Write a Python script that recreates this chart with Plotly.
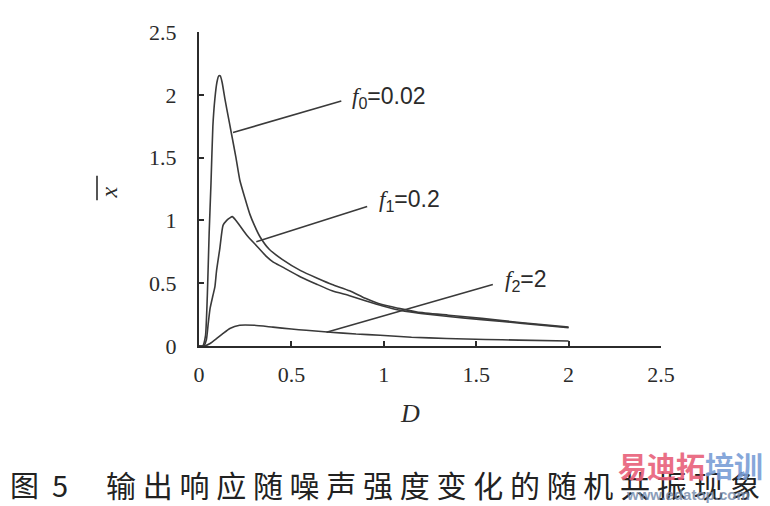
import plotly.graph_objects as go

# ---------------- data ----------------
x_f0 = [0, 0.02, 0.035, 0.045, 0.055, 0.065, 0.075, 0.086, 0.097, 0.107, 0.115, 0.125, 0.14, 0.15, 0.177,
        0.2, 0.221, 0.25, 0.275, 0.3, 0.33, 0.38, 0.45, 0.55, 0.64, 0.72, 0.815, 0.9, 0.99, 1.08, 1.18,
        1.35, 1.53, 1.75, 2.0]
y_f0 = [0, 0, 0.08, 0.4, 0.9, 1.3, 1.75, 1.97, 2.1, 2.15, 2.15, 2.1, 1.97, 1.89, 1.68,
        1.5, 1.32, 1.17, 1.05, 0.96, 0.87, 0.77, 0.69, 0.6, 0.54, 0.49, 0.44, 0.38, 0.33, 0.3, 0.27,
        0.245, 0.22, 0.185, 0.15]

x_f1 = [0, 0.025, 0.04, 0.05, 0.06, 0.075, 0.086, 0.095, 0.113, 0.13, 0.15, 0.167, 0.18, 0.2, 0.22,
        0.26, 0.31, 0.36, 0.4, 0.45, 0.55, 0.64, 0.72, 0.815, 0.9, 0.99, 1.1, 1.2, 1.35, 1.53, 1.75, 2.0]
y_f1 = [0, 0, 0.05, 0.18, 0.3, 0.4, 0.47, 0.6, 0.78, 0.96, 1.0, 1.02, 1.03, 1.0, 0.96,
        0.88, 0.8, 0.72, 0.67, 0.63, 0.55, 0.49, 0.44, 0.40, 0.36, 0.32, 0.28, 0.26, 0.235, 0.21, 0.18, 0.145]

x_f2 = [0, 0.03, 0.06, 0.096, 0.13, 0.167, 0.22, 0.3, 0.4, 0.5, 0.58, 0.71, 0.85, 0.98, 1.15, 1.34,
        1.55, 1.73, 2.0]
y_f2 = [0, 0, 0.02, 0.06, 0.1, 0.14, 0.165, 0.165, 0.15, 0.135, 0.125, 0.11, 0.095, 0.086, 0.07, 0.06,
        0.052, 0.047, 0.04]

# leader lines: (start on curve) -> (end near label)
lead_f0_x = [0.184, 0.77]
lead_f0_y = [1.70, 1.95]
lead_f1_x = [0.31, 0.91]
lead_f1_y = [0.83, 1.11]
lead_f2_x = [0.69, 1.59]
lead_f2_y = [0.11, 0.49]

SERIF_F = "<span style='font-family:Liberation Serif'><i>f</i></span>"
labels = [SERIF_F + "<sub>0</sub>=0.02", SERIF_F + "<sub>1</sub>=0.2", SERIF_F + "<sub>2</sub>=2"]
label_x = [0.815, 0.965, 1.645]
label_y = [1.98, 1.16, 0.52]

x_ticks = [0, 0.5, 1, 1.5, 2, 2.5]
x_tick_text = ["0", "0.5", "1", "1.5", "2", "2.5"]
y_ticks = [0, 0.5, 1, 1.5, 2, 2.5]
y_tick_text = ["0", "0.5", "1", "1.5", "2", "2.5"]

caption_head = "图\u00a0\u00a05"
caption_body = "输出响应随噪声强度变化的随机共振现象"

# ---------------- layout helpers ----------------
# page has an 8px body margin; figure is placed at (8, 8)
OFF = 8
W, H = 770 - OFF, 506 - OFF
L, T = 199 - OFF, 25 - OFF
R = W - (661 - OFF)
B = H - (346 - OFF)
PW, PH = W - L - R, H - T - B


def px(xp):
    return (xp - OFF - L) / PW


def py(yp):
    return (H - B - (yp - OFF)) / PH


INK = "#2b2b2b"
CURVE = "#3a3a3a"

fig = go.Figure()
for xs, ys in [(x_f0, y_f0), (x_f1, y_f1), (x_f2, y_f2)]:
    fig.add_trace(go.Scatter(x=xs, y=ys, mode="lines",
                             line=dict(color=CURVE, width=1.6, shape="spline", smoothing=0.5),
                             hoverinfo="skip", showlegend=False))
for xs, ys in [(lead_f0_x, lead_f0_y), (lead_f1_x, lead_f1_y), (lead_f2_x, lead_f2_y)]:
    fig.add_trace(go.Scatter(x=xs, y=ys, mode="lines",
                             line=dict(color=CURVE, width=1.6),
                             hoverinfo="skip", showlegend=False))

for t, lx, ly in zip(labels, label_x, label_y):
    fig.add_annotation(x=lx, y=ly, text=t, showarrow=False, xanchor="left", yanchor="middle",
                       font=dict(family="Liberation Sans", size=23, color=INK))

# axis titles
fig.add_annotation(xref="paper", yref="paper", x=px(410), y=py(415), text="<i>D</i>",
                   showarrow=False, xanchor="center", yanchor="middle",
                   font=dict(family="Liberation Serif", size=26, color=INK))
fig.add_annotation(xref="paper", yref="paper", x=px(109), y=py(189), text="<i>x</i>",
                   showarrow=False, textangle=-90, xanchor="center", yanchor="middle",
                   font=dict(family="Liberation Serif", size=24, color=INK))
fig.add_shape(type="line", xref="paper", yref="paper", x0=px(97), x1=px(97), y0=py(172), y1=py(197),
              line=dict(color=INK, width=1.6))

# caption
fig.add_annotation(xref="paper", yref="paper", x=px(8), y=py(487), text=caption_head,
                   showarrow=False, xanchor="left", yanchor="middle",
                   font=dict(family="Noto Sans CJK SC", size=29, color="#222222"))
fig.add_annotation(xref="paper", yref="paper", x=px(104), y=py(487), text=" ".join(caption_body),
                   showarrow=False, xanchor="left", yanchor="middle",
                   font=dict(family="Noto Sans CJK SC", size=30, color="#222222"))

# watermark
fig.add_annotation(xref="paper", yref="paper", x=px(616), y=py(468),
                   text="<b><span style='color:#e8607a'>易迪拓</span><span style='color:#7a9ed6'>培训</span></b>",
                   showarrow=False, xanchor="left", yanchor="middle", opacity=0.9,
                   font=dict(family="Noto Sans CJK SC", size=29))
fig.add_annotation(xref="paper", yref="paper", x=px(624), y=py(498), text="<b>www.edatop.com</b>",
                   showarrow=False, xanchor="left", yanchor="middle", opacity=0.8,
                   font=dict(family="Liberation Sans", size=15, color="#6f86a8"))

axis_common = dict(showgrid=False, zeroline=False, showline=True, linecolor=INK, linewidth=2,
                   ticks="inside", ticklen=5, tickwidth=1.5, tickcolor=INK,
                   tickfont=dict(family="Liberation Serif", size=22, color=INK))

fig.update_layout(
    width=W, height=H,
    margin=dict(l=L, r=R, t=T, b=B),
    paper_bgcolor="white", plot_bgcolor="white",
    xaxis=dict(range=[0, 2.5], tickvals=x_ticks, ticktext=x_tick_text, ticklabelstandoff=8, **axis_common),
    yaxis=dict(range=[0, 2.5], tickvals=y_ticks, ticktext=y_tick_text, ticklabelstandoff=16, **axis_common),
)

fig.write_html("out.html")
